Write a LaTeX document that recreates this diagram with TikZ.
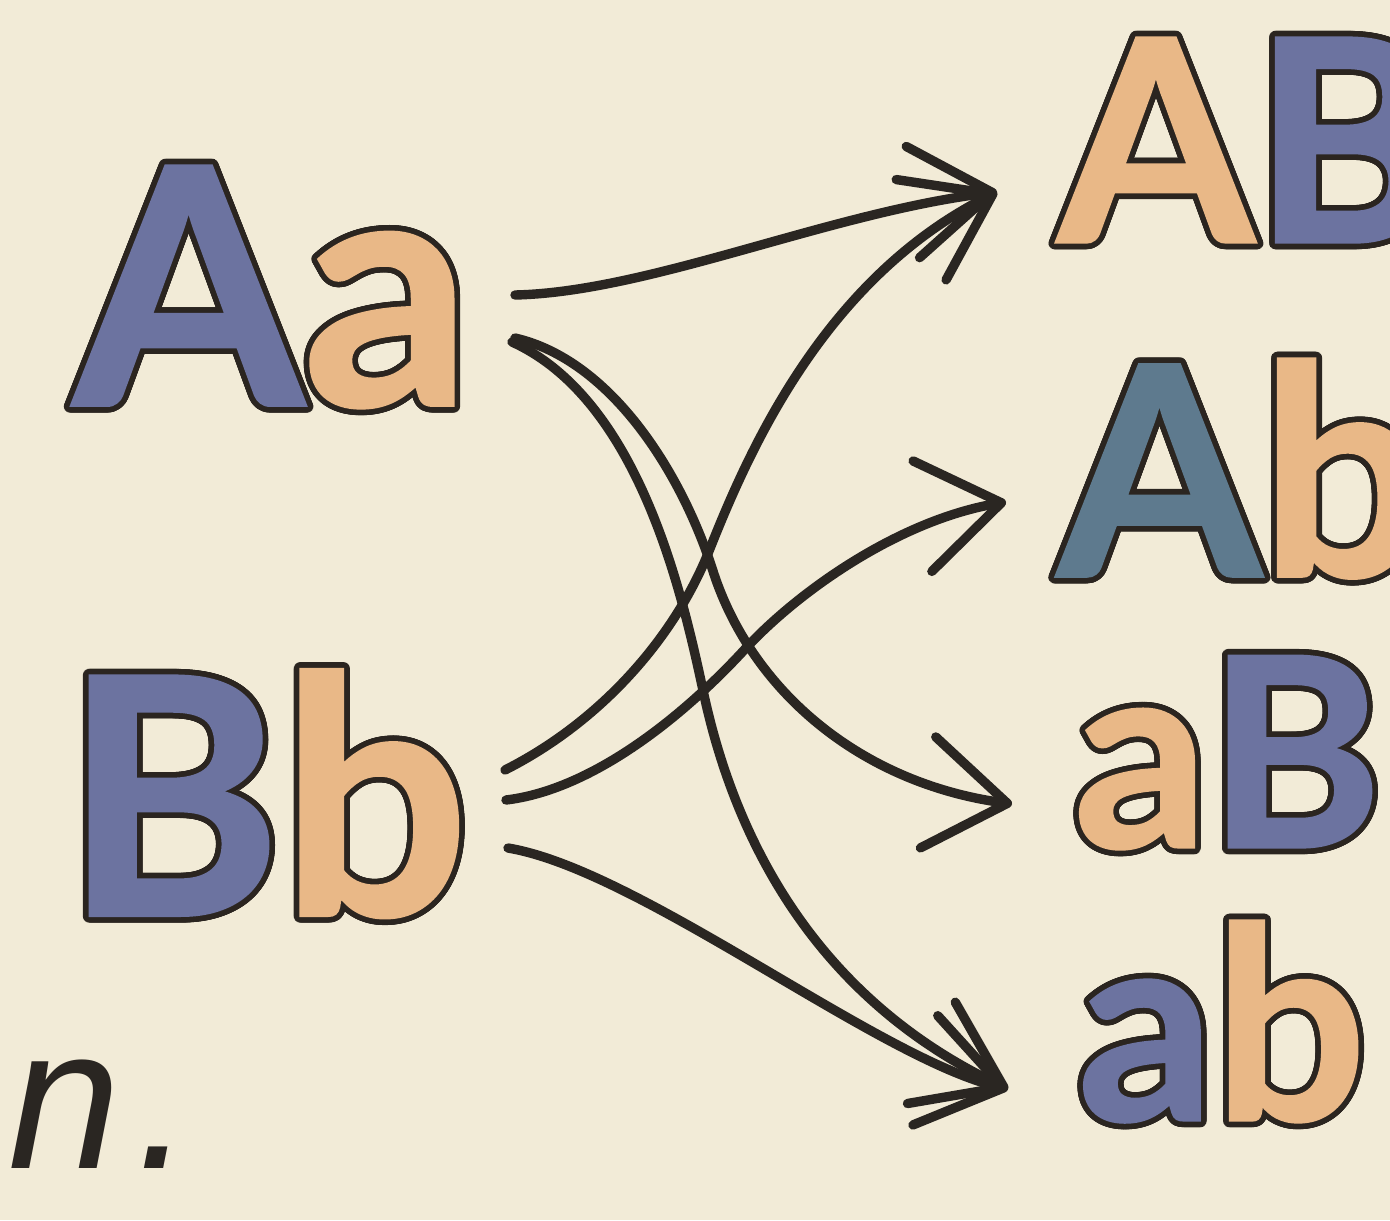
\documentclass[tikz,border=0pt]{standalone}
\usepackage{fontspec}
\setmainfont{Lato}
\newfontfamily\letfont{Lato}[BoldFeatures={FakeBold=1.2}]
\newfontfamily\handfont{Liberation Sans}
\usepackage{contour}
\contourlength{2.8pt}
\contournumber{32}
\usetikzlibrary{arrows.meta}
\definecolor{bgc}{HTML}{F2EBD7}
\definecolor{inkc}{HTML}{2A2622}
\definecolor{outl}{HTML}{2B2520}
\definecolor{blueL}{HTML}{6C73A0}
\definecolor{tealL}{HTML}{5E7A8E}
\definecolor{tanL}{HTML}{E9B887}
\newcommand\olet[2]{{\color{#1}\contour{outl}{#2}}}
\tikzset{
  pair/.style={inner sep=0pt, outer sep=0pt, anchor=base west},
  conn/.style={draw=inkc, line width=4.7pt, line cap=round, line join=round,
    -{Straight Barb[length=40pt,width=56pt,round]}},
}
\begin{document}
\begin{tikzpicture}[x=0.5pt,y=-0.5pt]
\fill[bgc] (0,0) rectangle (1390,1220);
\useasboundingbox (0,0) rectangle (1390,1220);

% parent genotypes
\node[pair, font=\letfont\bfseries\fontsize{165}{165}\selectfont] (Aa) at (74,405)
  {\olet{blueL}{A}\olet{tanL}{a}};
\node[pair, font=\letfont\bfseries\fontsize{165}{165}\selectfont] (Bb) at (64,915)
  {\olet{blueL}{B}\olet{tanL}{b}};

% gametes
\node[pair, font=\letfont\bfseries\fontsize{141}{141}\selectfont] (AB) at (1058,242)
  {\olet{tanL}{A}\olet{blueL}{B}};
\node[pair, font=\letfont\bfseries\fontsize{146}{146}\selectfont] (Ab) at (1058,576)
  {\olet{tealL}{A}\olet{tanL}{b}};
\node[pair, font=\letfont\bfseries\fontsize{132}{132}\selectfont] (aB) at (1074,847)
  {\olet{tanL}{a}\olet{blueL}{B}};
\node[pair, font=\letfont\bfseries\fontsize{134}{134}\selectfont] (ab) at (1078,1120)
  {\olet{blueL}{a}\olet{tanL}{b}};

% tail of a sentence
\node[anchor=base west, inner sep=0pt, text=inkc,
  font=\handfont\itshape\fontsize{101}{101}\selectfont] (tail) at (8,1168) {n\kern8pt.};

% connector ends
\coordinate (Aa1) at (515,295);
\coordinate (Aa2) at (515,338);
\coordinate (Aa3) at (512,342);
\coordinate (Bb1) at (505,770);
\coordinate (Bb2) at (506,800);
\coordinate (Bb3) at (508,848);
\coordinate (tAB) at (997,192);
\coordinate (tAb) at (1006,502);
\coordinate (taB) at (1012,804);
\coordinate (tab) at (1008,1089);

% connectors
\draw[conn] (Aa1) .. controls (650,292) and (830,212) .. (tAB);
\draw[conn] (Bb1) .. controls (600,722) and (672,640) .. (707,556)
  .. controls (745,460) and (820,280) .. (tAB);
\draw[conn] (Bb2) .. controls (590,790) and (680,720) .. (746,648)
  .. controls (800,590) and (900,520) .. (tAb);
\draw[conn] (Aa2) .. controls (610,360) and (680,470) .. (712,568)
  .. controls (750,690) and (860,783) .. (taB);
\draw[conn] (Aa3) .. controls (640,400) and (683,597) .. (704,695)
  .. controls (740,860) and (830,1005) .. (tab);
\draw[conn] (Bb3) .. controls (640,870) and (880,1060) .. (tab);
\end{tikzpicture}
\end{document}
